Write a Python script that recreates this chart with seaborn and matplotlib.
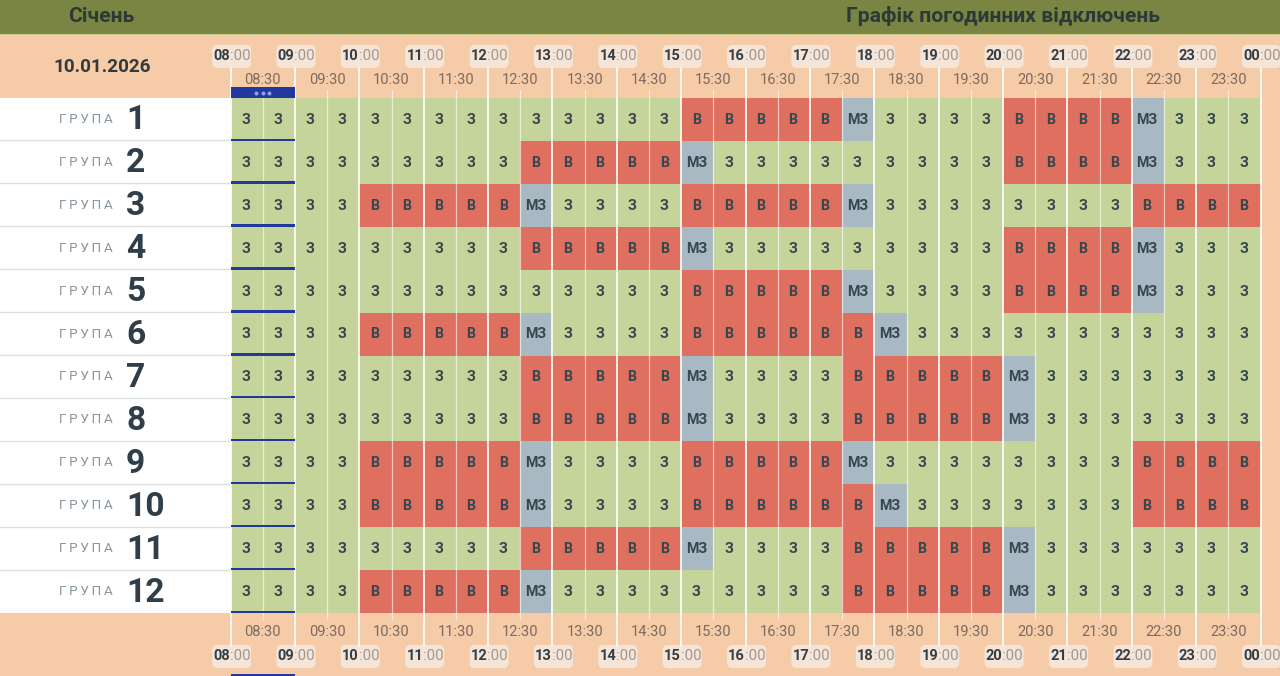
import numpy as np
import matplotlib
matplotlib.use("Agg")
import matplotlib.pyplot as plt
from matplotlib.colors import ListedColormap
from matplotlib.patches import FancyBboxPatch, Rectangle
from matplotlib.transforms import blended_transform_factory
import seaborn as sns

month = "Січень"
title = "Графік погодинних відключень"
date_label = "10.01.2026"
group_word = "Г\u2009Р\u2009У\u2009П\u2009А"

groups = ["1", "2", "3", "4", "5", "6", "7", "8", "9", "10", "11", "12"]
hours = ["08", "09", "10", "11", "12", "13", "14", "15", "16", "17", "18", "19", "20", "21", "22", "23", "00"]
half_hours = ["08:30", "09:30", "10:30", "11:30", "12:30", "13:30", "14:30", "15:30",
              "16:30", "17:30", "18:30", "19:30", "20:30", "21:30", "22:30", "23:30"]

# one letter per half hour: z = З, v = В, m = МЗ
schedule = [
    "zzzzzzzzzzzzzzvvvvvmzzzzvvvvmzzz",
    "zzzzzzzzzvvvvvmzzzzzzzzzvvvvmzzz",
    "zzzzvvvvvmzzzzvvvvvmzzzzzzzzvvvv",
    "zzzzzzzzzvvvvvmzzzzzzzzzvvvvmzzz",
    "zzzzzzzzzzzzzzvvvvvmzzzzvvvvmzzz",
    "zzzzvvvvvmzzzzvvvvvvmzzzzzzzzzzz",
    "zzzzzzzzzvvvvvmzzzzvvvvvmzzzzzzz",
    "zzzzzzzzzvvvvvmzzzzvvvvvmzzzzzzz",
    "zzzzvvvvvmzzzzvvvvvmzzzzzzzzvvvv",
    "zzzzvvvvvmzzzzvvvvvvmzzzzzzzvvvv",
    "zzzzzzzzzvvvvvmzzzzvvvvvmzzzzzzz",
    "zzzzvvvvvmzzzzzzzzzvvvvvmzzzzzzz",
]
state_codes = {"z": 0, "v": 1, "m": 2}
state_labels = {"z": "З", "v": "В", "m": "МЗ"}
state_colors = ["#c5d49b", "#df6f5e", "#a9b9c4"]

PEACH = "#f5cba8"
DARK = "#2f3e48"
NARROW = ["Liberation Sans Narrow", "Roboto"]

sns.set_theme(style="white")
plt.rcParams["font.family"] = ["Roboto", "DejaVu Sans"]

codes = np.array([[state_codes[c] for c in row] for row in schedule])
labels = np.array([[state_labels[c] for c in row] for row in schedule])

W, H = 1280, 676
fig = plt.figure(figsize=(W / 100, H / 100), dpi=100, facecolor=PEACH)

# page layer in pixels
bg = fig.add_axes([0, 0, 1, 1], zorder=0)
bg.set_xlim(0, W)
bg.set_ylim(H, 0)
bg.axis("off")
bg.add_patch(Rectangle((0, 0), W, 33.5, color="#7a8543", lw=0))
bg.add_patch(Rectangle((0, 33.5), W, 1, color="#c9cd8e", lw=0))
bg.add_patch(Rectangle((0, 98), 231, 515, color="white", lw=0))

grid_left, grid_right, grid_top, grid_bottom = 230.6, 1260.6, 98, 613
hm = fig.add_axes([grid_left / W, 1 - grid_bottom / H, (grid_right - grid_left) / W,
                   (grid_bottom - grid_top) / H], zorder=1)
sns.heatmap(codes, annot=labels, fmt="", cmap=ListedColormap(state_colors), vmin=0, vmax=2,
            cbar=False, linewidths=0, xticklabels=False, yticklabels=False, ax=hm,
            annot_kws={"fontsize": 10.2, "fontweight": "bold", "color": "#36474f"})
# nudge the cell letters to sit like in the page
for t in hm.texts:
    x, y = t.get_position()
    t.set_position((x - 0.03, y + 0.01))

# x follows the heatmap columns, y stays in page pixels
tr = blended_transform_factory(hm.transData, bg.transData)
row_h = (grid_bottom - grid_top) / len(groups)

for i in range(len(half_hours)):
    hm.plot([2 * i + 1] * 2, [90, 619], transform=tr, color="white", alpha=0.6, lw=0.9,
            clip_on=False, zorder=3)
for i in range(len(hours)):
    hm.plot([2 * i] * 2, [68, 646], transform=tr, color="white", alpha=0.95, lw=1.3,
            clip_on=False, zorder=3)

# current half-hour marker
hm.add_patch(Rectangle((0, 87), 2, 11, transform=tr, color="#21389f", lw=0, clip_on=False, zorder=4))
hm.scatter([0.8, 1.0, 1.2], [92.5] * 3, transform=tr, s=8, color="#8ea2ee", lw=0, clip_on=False, zorder=5)
hm.add_patch(Rectangle((0, 674), 2, 2, transform=tr, color="#21389f", lw=0, clip_on=False, zorder=4))

for i, g in enumerate(groups):
    yc = grid_top + row_h * (i + 0.5)
    yb = grid_top + row_h * (i + 1)
    hm.add_patch(Rectangle((0, yb - 2.4), 2, 2.4, transform=tr, color="#21389f", lw=0, clip_on=False, zorder=4))
    if i < len(groups) - 1:
        bg.plot([0, grid_left], [yb - 0.5, yb - 0.5], color="#dcdfe0", lw=1.0)
    bg.text(86, yc, group_word, ha="center", va="center", fontsize=9.7, color="#87959d")
    bg.text(126, yc + 1, g, ha="left", va="center", fontsize=24.2, fontweight="bold", color=DARK)

for yc, yp in [(56, 45), (656, 645)]:
    for i, h in enumerate(hours):
        px = grid_left + 2 * i * (grid_right - grid_left) / codes.shape[1]
        bg.add_patch(FancyBboxPatch((px - 15.5, yp + 3), 33, 17, boxstyle="round,pad=3,rounding_size=5",
                                    fc="#f5e4d8", ec="none", zorder=1))
        hm.text(2 * i - 0.02, yc, h, transform=tr, ha="right", va="center", fontsize=10.5,
                fontweight="bold", color="#333f47", family=NARROW, zorder=6)
        hm.text(2 * i - 0.02, yc, ":00", transform=tr, ha="left", va="center", fontsize=10.8,
                color="#a0978f", family=NARROW, zorder=6)

for yc in (80.5, 632.5):
    for i, t in enumerate(half_hours):
        hm.text(2 * i + 1, yc, t, transform=tr, ha="center", va="center", fontsize=10.5,
                color="#7d6b60", family=NARROW, zorder=6)

bg.text(68, 16, month, ha="left", va="center", fontsize=15.2, fontweight="bold", color="#2b3a38")
bg.text(846, 16, title, ha="left", va="center", fontsize=15.2, fontweight="bold", color="#2b3a38")
bg.text(102, 67, date_label, ha="center", va="center", fontsize=13.6, fontweight="bold", color="#33393d")

fig.savefig("out.png", dpi=100, facecolor=PEACH)
